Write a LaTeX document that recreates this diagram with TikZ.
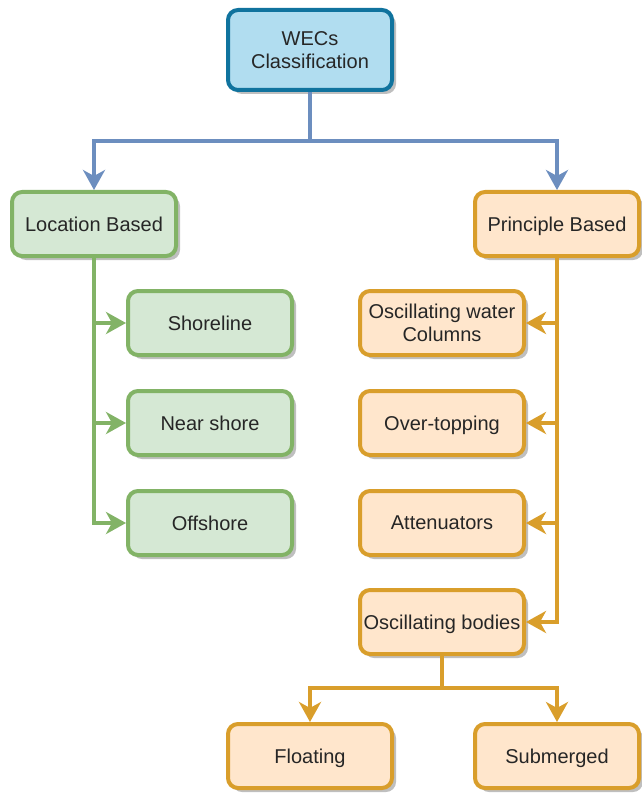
\documentclass[tikz,border=0pt]{standalone}
\usepackage{fontspec}
\setmainfont{Liberation Sans}
\usetikzlibrary{arrows.meta}
\usetikzlibrary{shadows}

\definecolor{wecfill}{HTML}{B1DDF0}
\definecolor{wecdraw}{HTML}{10739E}
\definecolor{locfill}{HTML}{D5E8D4}
\definecolor{locdraw}{HTML}{82B366}
\definecolor{prinfill}{HTML}{FFE6CC}
\definecolor{prindraw}{HTML}{D99E2B}
\definecolor{linkblue}{HTML}{6C8EBF}

\tikzset{
  box/.style={draw, rounded corners=10pt, line width=4pt, minimum width=164pt,
    minimum height=64pt, align=center, text=black!85, text depth=0pt,
    font=\fontsize{20}{23}\selectfont,
    drop shadow={shadow xshift=4pt, shadow yshift=-4pt, fill=black!25, opacity=1}},
  wecbox/.style={box, fill=wecfill, draw=wecdraw, minimum height=80pt},
  locbox/.style={box, fill=locfill, draw=locdraw},
  prinbox/.style={box, fill=prinfill, draw=prindraw},
  link/.style={line width=4pt, -{Stealth[length=20pt, width=22pt, inset=6pt]}}
}

\begin{document}
\begin{tikzpicture}[x=1pt, y=-1pt]
        \useasboundingbox (0,0) rectangle (641,794);
        % root
        \node[wecbox] (wec) at (310,50) {WECs\\Classification};
        % location branch
        \node[locbox] (loc) at (94,224) {Location Based};
        \node[locbox] (shore) at (210,323) {Shoreline};
        \node[locbox] (near) at (210,423) {Near shore};
        \node[locbox] (off) at (210,523) {Offshore};
        % principle branch
        \node[prinbox] (prin) at (557,224) {Principle Based};
        \node[prinbox] (owc) at (442,323) {Oscillating water\\Columns};
        \node[prinbox] (over) at (442,423) {Over-topping};
        \node[prinbox] (att) at (442,523) {Attenuators};
        \node[prinbox] (osc) at (442,622) {Oscillating bodies};
        \node[prinbox] (float) at (310,756) {Floating};
        \node[prinbox] (sub) at (557,756) {Submerged};
        % connectors
        \draw[link, linkblue] (wec.south) -- ++(0,49) -| (loc.north);
        \draw[link, linkblue] (wec.south) -- ++(0,49) -| (prin.north);
        \draw[link, locdraw] (loc.south) |- (shore.west);
        \draw[link, locdraw] (loc.south) |- (near.west);
        \draw[link, locdraw] (loc.south) |- (off.west);
        \draw[link, prindraw] (prin.south) |- (owc.east);
        \draw[link, prindraw] (prin.south) |- (over.east);
        \draw[link, prindraw] (prin.south) |- (att.east);
        \draw[link, prindraw] (prin.south) |- (osc.east);
        \draw[link, prindraw] (osc.south) -- ++(0,32) -| (float.north);
        \draw[link, prindraw] (osc.south) -- ++(0,32) -| (sub.north);
    \end{tikzpicture}
\end{document}
